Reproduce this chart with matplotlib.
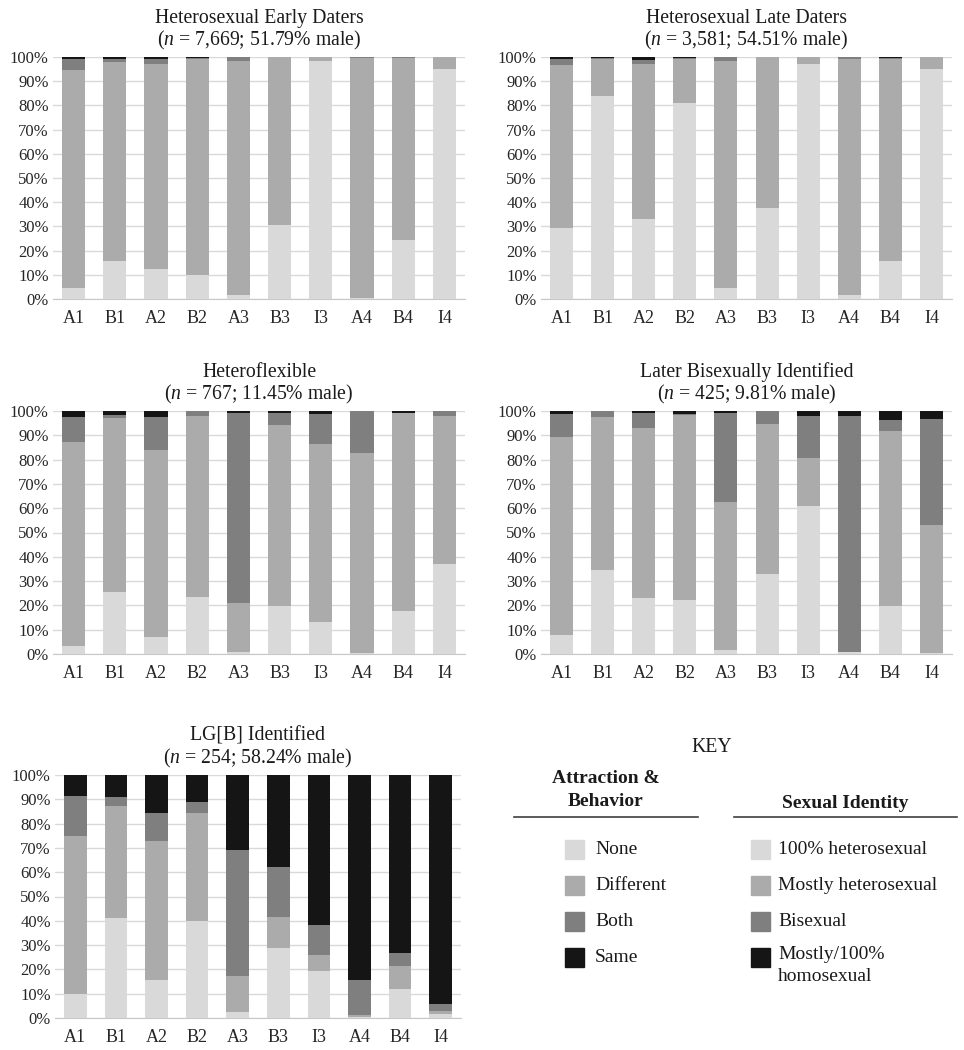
"""
Stacked bar panels: attraction/behavior and identity by dating group
"""
import matplotlib
matplotlib.use('Agg')
import matplotlib.pyplot as plt
from matplotlib.patches import Rectangle
from matplotlib.ticker import PercentFormatter

plt.rcParams['font.family'] = ['Liberation Serif', 'DejaVu Serif']
plt.rcParams['mathtext.fontset'] = 'custom'
plt.rcParams['mathtext.rm'] = 'Liberation Serif'
plt.rcParams['mathtext.it'] = 'Liberation Serif:italic'

categories = ['A1', 'B1', 'A2', 'B2', 'A3', 'B3', 'I3', 'A4', 'B4', 'I4']

# segments from bottom to top: none/100% het, different/mostly het, both/bisexual, same/homosexual
early_none = [4.5, 15.5, 12.5, 10.0, 1.5, 30.5, 98.5, 0.3, 24.5, 95.0]
early_diff = [90.0, 82.5, 84.5, 89.2, 97.0, 69.5, 1.5, 99.2, 75.2, 5.0]
early_both = [4.7, 1.2, 2.0, 0.2, 1.3, 0.0, 0.0, 0.4, 0.1, 0.0]
early_same = [0.8, 0.8, 1.0, 0.6, 0.2, 0.0, 0.0, 0.1, 0.2, 0.0]

late_none = [29.5, 84.0, 33.0, 81.0, 4.5, 37.5, 97.0, 1.5, 15.5, 95.0]
late_diff = [67.3, 15.3, 64.3, 18.2, 93.9, 62.5, 3.0, 97.5, 83.5, 5.0]
late_both = [2.2, 0.3, 1.5, 0.3, 1.4, 0.0, 0.0, 0.8, 0.6, 0.0]
late_same = [1.0, 0.4, 1.2, 0.5, 0.2, 0.0, 0.0, 0.2, 0.4, 0.0]

flex_none = [3.2, 25.5, 6.8, 23.6, 0.8, 19.6, 13.3, 0.4, 17.9, 37.0]
flex_diff = [83.9, 71.8, 77.0, 74.3, 20.3, 74.5, 73.0, 82.5, 81.1, 61.1]
flex_both = [10.6, 0.9, 13.9, 1.9, 77.9, 5.2, 12.6, 17.1, 0.3, 1.9]
flex_same = [2.3, 1.8, 2.3, 0.2, 1.0, 0.7, 1.1, 0.0, 0.7, 0.0]

bi_none = [7.8, 34.4, 23.0, 22.2, 1.6, 33.0, 61.1, 0.7, 19.9, 0.4]
bi_diff = [81.4, 63.3, 70.2, 76.3, 60.9, 61.5, 19.4, 0.0, 71.7, 52.5]
bi_both = [9.6, 2.3, 6.0, 0.3, 36.7, 5.5, 17.6, 97.1, 4.6, 43.9]
bi_same = [1.2, 0.0, 0.8, 1.2, 0.8, 0.0, 1.9, 2.2, 3.8, 3.2]

lgb_none = [10.0, 41.3, 15.6, 40.1, 2.5, 28.7, 19.2, 0.4, 11.8, 1.5]
lgb_diff = [65.0, 45.8, 57.4, 44.1, 14.8, 12.7, 6.7, 0.8, 9.5, 1.4]
lgb_both = [16.2, 3.7, 11.4, 4.7, 51.8, 20.6, 12.4, 14.3, 5.3, 2.9]
lgb_same = [8.8, 9.2, 15.6, 11.1, 30.9, 38.0, 61.7, 84.5, 73.4, 94.2]

titles = [
    'Heterosexual Early Daters\n($\\mathit{n}$ = 7,669; 51.79% male)',
    'Heterosexual Late Daters\n($\\mathit{n}$ = 3,581; 54.51% male)',
    'Heteroflexible\n($\\mathit{n}$ = 767; 11.45% male)',
    'Later Bisexually Identified\n($\\mathit{n}$ = 425; 9.81% male)',
    'LG[B] Identified\n($\\mathit{n}$ = 254; 58.24% male)',
]

colors = ['#d9d9d9', '#ababab', '#7f7f7f', '#151515']
key_ab = ['None', 'Different', 'Both', 'Same']
key_id = ['100% heterosexual', 'Mostly heterosexual', 'Bisexual', 'Mostly/100%\nhomosexual']

panels = [
    [early_none, early_diff, early_both, early_same],
    [late_none, late_diff, late_both, late_same],
    [flex_none, flex_diff, flex_both, flex_same],
    [bi_none, bi_diff, bi_both, bi_same],
    [lgb_none, lgb_diff, lgb_both, lgb_same],
]

W, H = 964, 1050
# axes boxes in pixels: left, top, right, bottom
boxes = [
    (53, 57, 465, 299),
    (541, 57, 952, 299),
    (53, 411, 465, 654),
    (541, 411, 952, 654),
    (55, 775, 461, 1018),
]

fig = plt.figure(figsize=(W / 100, H / 100), dpi=100)

for segs, title, (l, t, r, b) in zip(panels, titles, boxes):
    ax = fig.add_axes([l / W, 1 - b / H, (r - l) / W, (b - t) / H])
    x = range(len(categories))
    bottom = [0.0] * len(categories)
    for vals, c in zip(segs, colors):
        ax.bar(x, vals, bottom=bottom, width=0.56, color=c, zorder=3)
        bottom = [bo + v for bo, v in zip(bottom, vals)]
    ax.set_xlim(-0.5, len(categories) - 0.5)
    ax.set_ylim(0, 100)
    ax.set_yticks(range(0, 101, 10))
    ax.yaxis.set_major_formatter(PercentFormatter(decimals=0))
    ax.set_xticks(list(x))
    ax.set_xticklabels(categories)
    ax.tick_params(axis='both', length=0, colors='#262626')
    ax.tick_params(axis='x', labelsize=13, pad=8)
    ax.tick_params(axis='y', labelsize=12, pad=3)
    ax.grid(axis='y', color='#d9d9d9', linewidth=1, zorder=0)
    for s in ['top', 'right', 'left']:
        ax.spines[s].set_visible(False)
    ax.spines['bottom'].set_color('#c8c8c8')
    ax.set_title(title, fontsize=14.2, linespacing=1.1, pad=8, color='#1a1a1a')

# key drawn in pixel coordinates
kax = fig.add_axes([490 / W, 0, (W - 490) / W, (H - 725) / H])
kax.set_xlim(490, W)
kax.set_ylim(H, 725)
kax.axis('off')
kax.text(712, 748, 'KEY', ha='center', va='center', fontsize=14.2, color='#1a1a1a')
kax.text(606, 790, 'Attraction &\nBehavior', ha='center', va='center', fontsize=14,
         fontweight='bold', linespacing=1.45, color='#1a1a1a')
kax.text(845, 803, 'Sexual Identity', ha='center', va='center', fontsize=14,
         fontweight='bold', color='#1a1a1a')
kax.plot([514, 698], [817, 817], color='#404040', lw=1.2)
kax.plot([734, 957], [817, 817], color='#404040', lw=1.2)

row_y = [849, 885, 921, 957]
for i, (c, lab_ab, lab_id) in enumerate(zip(colors, key_ab, key_id)):
    y = row_y[i]
    kax.add_patch(Rectangle((565, y - 9.5), 19, 19, color=c))
    kax.text(595, y, lab_ab, ha='left', va='center', fontsize=14, color='#1a1a1a')
    kax.add_patch(Rectangle((751, y - 9.5), 19, 19, color=c))
    if '\n' in lab_id:
        kax.text(778, y - 11, lab_id, ha='left', va='top', fontsize=14,
                 linespacing=1.35, color='#1a1a1a')
    else:
        kax.text(778, y, lab_id, ha='left', va='center', fontsize=14, color='#1a1a1a')

plt.savefig('out.png', dpi=100)
plt.close()
